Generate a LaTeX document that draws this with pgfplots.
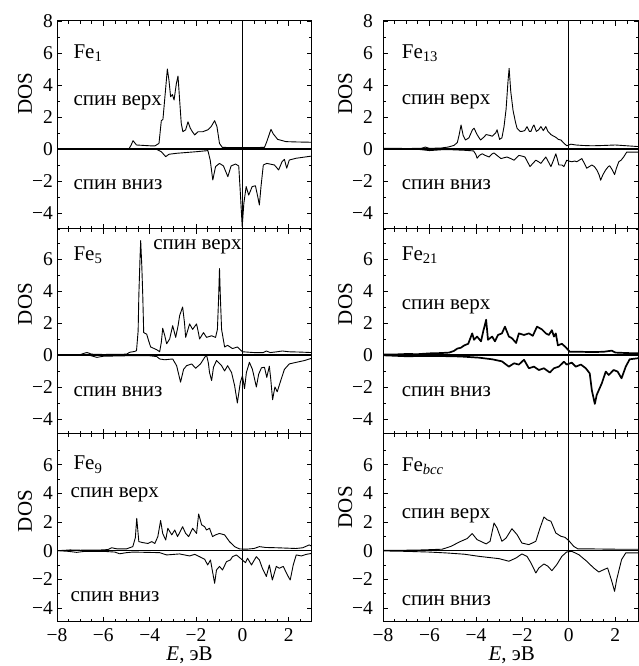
\documentclass[border=0pt]{standalone}
\usepackage{fontspec}
\setmainfont{Liberation Serif}
\usepackage{pgfplots}
\pgfplotsset{compat=1.18}
\newcommand{\fs}{\fontsize{19.5}{22}\selectfont}
\newcommand{\ft}{\fontsize{21}{24}\selectfont}
\pgfplotsset{
 dos/.style={
  scale only axis, width=255pt, xmin=-8, xmax=3,
  xtick={-8,-6,-4,-2,0,2},
  minor xtick={-7.5,-7,-6.5,-5.5,-5,-4.5,-3.5,-3,-2.5,-1.5,-1,-0.5,0.5,1,1.5,2.5},
  minor ytick={-5,-3,-1,1,3,5,7},
  tick align=inside, major tick length=5pt, minor tick length=3pt,
  every tick/.style={black, line width=0.7pt},
  axis line style={line width=1pt},
  tick label style={font=\fs, inner sep=0pt},
  label style={font=\ft},
  clip=true,
  xticklabels={},
 },
 lcol/.style={yticklabel style={xshift=-4pt},
   every axis y label/.style={at={(axis description cs:-0.125,#1)}, rotate=90, anchor=center, font=\ft}},
 rcol/.style={yticklabel style={xshift=-10pt},
   every axis y label/.style={at={(axis description cs:-0.148,#1)}, rotate=90, anchor=center, font=\ft}},
 top/.style={height=208pt, ymin=-5, ymax=8, ytick={-4,-2,0,2,4,6,8},
   yticklabels={−4,−2,0,2,4,6,8}},
 mid/.style={height=205pt, ymin=-4.94, ymax=7.875, ytick={-4,-2,0,2,4,6},
   yticklabels={−4,−2,0,2,4,6}},
 bot/.style={height=188pt, ymin=-4.98, ymax=8.14, ytick={-4,-2,0,2,4,6},
   yticklabels={−4,−2,0,2,4,6},
   xticklabels={−8,−6,−4,−2,0,2}, xticklabel style={yshift=-6pt},
   xlabel={\textit{E}, эВ}},
 zl/.style={black, line width=1.4pt},
 cv/.style={black, line width=0.9pt, line join=round},
}
\begin{document}
\begin{tikzpicture}
\useasboundingbox (0,0) rectangle (639pt,666pt);
% ---------- Fe1 ----------
\begin{axis}[dos, top, lcol=0.65, at={(57pt,437pt)}, anchor=south west, ylabel={DOS}]
\addplot[zl] coordinates {(-8,0) (3,0)};
\addplot[black, line width=1.2pt] coordinates {(0,-6) (0,9)};
\addplot[cv] coordinates {(-8,0) (-4.9,0) (-4.8,0.25) (-4.72,0.52) (-4.57,0.25) (-4.0,0.2) (-3.78,0.19) (-3.6,0.35) (-3.5,1.77) (-3.43,1.85) (-3.33,3.5) (-3.24,5.0) (-3.17,4.3) (-3.1,3.27) (-3.02,3.4) (-2.95,3.06) (-2.85,4.1) (-2.78,4.56) (-2.71,3.06) (-2.64,1.6) (-2.57,1.08) (-2.45,1.2) (-2.35,1.7) (-2.25,1.3) (-2.16,1.08) (-2.06,0.88) (-1.92,1.08) (-1.71,1.08) (-1.49,1.2) (-1.35,1.4) (-1.2,1.77) (-1.1,1.4) (-0.99,0.35) (-0.87,0.1) (0,0.08) (0.95,0.1) (1.05,0.46) (1.23,1.23) (1.33,0.94) (1.52,0.6) (1.88,0.46) (2.31,0.44) (3,0.42)};
\addplot[cv] coordinates {(-8,0) (-3.71,-0.02) (-3.5,-0.17) (-3.31,-0.48) (-3.17,-0.33) (-2.85,-0.27) (-1.99,-0.17) (-1.49,-0.1) (-1.39,-0.7) (-1.28,-1.94) (-1.16,-1.1) (-0.99,-0.9) (-0.82,-1.06) (-0.63,-1.73) (-0.49,-1.06) (-0.3,-0.94) (-0.16,-1.06) (-0.09,-2.77) (-0.01,-4.85) (0.06,-3.4) (0.16,-2.35) (0.27,-2.88) (0.42,-2.35) (0.56,-2.3) (0.66,-2.98) (0.73,-3.5) (0.8,-2.35) (0.9,-1.0) (1.05,-0.9) (1.38,-1.0) (1.56,-1.31) (1.71,-0.79) (1.81,-0.65) (1.91,-1.2) (2.02,-0.69) (2.31,-0.58) (3,-0.44)};
\node[anchor=west, font=\ft] at (axis cs:-7.44,6.0) {Fe\textsubscript{1}};
\node[anchor=west, font=\ft] at (axis cs:-7.44,2.9) {спин верх};
\node[anchor=west, font=\ft] at (axis cs:-7.44,-2.25) {спин вниз};
\end{axis}
% ---------- Fe5 ----------
\begin{axis}[dos, mid, lcol=0.634, at={(57pt,232pt)}, anchor=south west, ylabel={DOS}]
\addplot[zl] coordinates {(-8,0) (3,0)};
\addplot[black, line width=1.2pt] coordinates {(0,-6) (0,9)};
\addplot[cv] coordinates {(-8,0) (-7,0.02) (-6.8,0.12) (-6.7,0.15) (-6.5,0.05) (-6,0.03) (-5,0.05) (-4.86,0.17) (-4.65,0.22) (-4.57,0.27) (-4.5,1.5) (-4.47,3.7) (-4.42,6.0) (-4.39,7.15) (-4.34,5.5) (-4.3,3.7) (-4.26,1.4) (-4.13,1.3) (-4.05,0.9) (-3.96,0.5) (-3.7,0.33) (-3.57,0.2) (-3.5,0.8) (-3.44,1.67) (-3.35,1.2) (-3.27,0.7) (-3.14,1.0) (-3.01,1.83) (-2.88,1.1) (-2.78,1.8) (-2.71,2.46) (-2.58,3.0) (-2.5,2.0) (-2.45,1.1) (-2.28,1.94) (-2.15,1.6) (-1.98,1.94) (-1.9,1.4) (-1.85,1.0) (-1.68,1.4) (-1.55,1.1) (-1.33,1.2) (-1.16,1.1) (-1.08,1.6) (-1.03,3.5) (-0.99,5.4) (-0.95,3.5) (-0.9,1.6) (-0.77,0.5) (-0.64,0.6) (-0.43,0.4) (-0.22,0.5) (0,0.2) (0.5,0.15) (0.9,0.15) (1.03,0.25) (1.2,0.15) (1.5,0.2) (1.72,0.25) (2.0,0.2) (2.5,0.18) (3,0.15)};
\addplot[cv] coordinates {(-8,0) (-6.6,-0.02) (-6.28,-0.15) (-6.0,-0.08) (-5,-0.05) (-4,-0.05) (-3.7,-0.1) (-3.57,-0.25) (-3.35,-0.3) (-3.01,-0.25) (-2.84,-0.67) (-2.67,-1.7) (-2.54,-0.9) (-2.41,-0.67) (-2.19,-0.56) (-2.02,-0.83) (-1.81,-0.56) (-1.63,-0.15) (-1.55,0) (-1.47,-0.5) (-1.42,-1.1) (-1.33,-1.6) (-1.25,-0.77) (-1.12,-0.35) (-0.9,-0.67) (-0.77,-1.0) (-0.64,-0.67) (-0.47,-1.1) (-0.34,-1.9) (-0.22,-3.0) (-0.09,-1.7) (0,-1.3) (0.09,-2.1) (0.17,-1.1) (0.3,-0.46) (0.43,-0.9) (0.6,-2.0) (0.7,-1.2) (0.82,-0.8) (0.95,-0.77) (1.05,-1.4) (1.16,-0.7) (1.22,-1.5) (1.3,-2.8) (1.4,-2.0) (1.5,-2.3) (1.63,-1.7) (1.81,-0.9) (2.02,-0.56) (2.32,-0.46) (2.67,-0.35) (3,-0.2)};
\node[anchor=west, font=\ft] at (axis cs:-7.44,6.25) {Fe\textsubscript{5}};
\node[anchor=west, font=\ft] at (axis cs:-4.0,6.75) {спин верх};
\node[anchor=west, font=\ft] at (axis cs:-7.44,-2.3) {спин вниз};
\end{axis}
% ---------- Fe9 ----------
\begin{axis}[dos, bot, lcol=0.59, at={(57pt,44pt)}, anchor=south west, ylabel={DOS},
  every axis x label/.style={at={(axis description cs:0.52,-0.175)}, anchor=center, font=\ft}]
\addplot[zl] coordinates {(-8,0) (3,0)};
\addplot[black, line width=1.2pt] coordinates {(0,-6) (0,9)};
\addplot[cv] coordinates {(-8,0) (-7.7,0.02) (-7.44,0.05) (-7,0.03) (-6,0.05) (-5.8,0.08) (-5.64,0.2) (-5.4,0.12) (-5.0,0.12) (-4.94,0.16) (-4.73,0.28) (-4.62,0.9) (-4.56,2.26) (-4.47,0.63) (-4.3,0.56) (-4.08,0.5) (-3.91,0.63) (-3.78,0.5) (-3.65,0.98) (-3.53,2.1) (-3.44,1.2) (-3.31,0.74) (-3.22,1.56) (-3.05,1.1) (-2.92,1.44) (-2.8,0.98) (-2.58,1.67) (-2.45,1.2) (-2.32,0.98) (-2.15,1.56) (-1.98,1.2) (-1.89,2.56) (-1.76,1.8) (-1.63,1.67) (-1.55,1.44) (-1.42,1.56) (-1.29,0.98) (-1.16,1.1) (-0.99,1.2) (-0.77,1.1) (-0.56,0.63) (-0.34,0.28) (-0.13,0.12) (0.17,0.1) (0.5,0.15) (0.73,0.28) (1.0,0.22) (1.5,0.2) (2.3,0.15) (2.6,0.2) (2.88,0.4) (3,0.3)};
\addplot[cv] coordinates {(-8,0) (-7.5,-0.05) (-7.15,-0.12) (-6.8,-0.05) (-6,-0.05) (-5.5,-0.1) (-5.3,-0.22) (-5.0,-0.14) (-4.73,-0.1) (-3.57,-0.14) (-3.27,-0.3) (-2.71,-0.23) (-2.28,-0.37) (-2.06,-0.26) (-1.85,-0.42) (-1.63,-0.6) (-1.5,-1.0) (-1.38,-0.65) (-1.29,-1.47) (-1.2,-2.28) (-1.12,-1.35) (-0.99,-1.1) (-0.86,-1.35) (-0.69,-0.77) (-0.52,-0.65) (-0.43,-0.42) (-0.26,-0.3) (-0.04,-0.6) (0.13,-0.84) (0.22,-0.53) (0.39,-1.0) (0.47,-0.77) (0.6,-0.42) (0.73,-0.65) (0.86,-1.23) (1.03,-1.8) (1.16,-1.0) (1.29,-2.05) (1.46,-1.1) (1.59,-1.23) (1.76,-1.1) (1.94,-1.7) (2.06,-2.05) (2.19,-1.0) (2.32,-0.3) (2.54,-0.37) (2.75,-0.26) (3,-0.19)};
\node[anchor=west, font=\ft] at (axis cs:-7.44,6.0) {Fe\textsubscript{9}};
\node[anchor=west, font=\ft] at (axis cs:-7.57,3.9) {спин верх};
\node[anchor=west, font=\ft] at (axis cs:-7.57,-3.2) {спин вниз};
\end{axis}
% ---------- Fe13 ----------
\begin{axis}[dos, top, rcol=0.65, width=255.5pt, at={(383pt,437pt)}, anchor=south west, ylabel={DOS}]
\addplot[zl] coordinates {(-8,0) (3,0)};
\addplot[black, line width=1.2pt] coordinates {(0,-6) (0,9)};
\addplot[cv] coordinates {(-8,0.05) (-7,0.03) (-6.35,0.04) (-6.18,0.12) (-6.0,0.04) (-5.5,0.06) (-5.2,0.12) (-4.95,0.22) (-4.8,0.4) (-4.72,0.9) (-4.64,1.5) (-4.55,0.85) (-4.45,0.56) (-4.3,0.7) (-4.15,1.2) (-4.08,1.3) (-3.95,0.9) (-3.8,0.56) (-3.65,0.75) (-3.56,0.9) (-3.4,0.85) (-3.3,0.8) (-3.15,1.0) (-3.09,1.2) (-2.98,0.6) (-2.88,0.7) (-2.79,1.4) (-2.7,2.5) (-2.62,4.2) (-2.57,5.04) (-2.5,3.6) (-2.4,2.4) (-2.3,1.7) (-2.23,1.3) (-2.1,1.1) (-2.02,1.1) (-1.9,1.15) (-1.8,1.4) (-1.7,1.1) (-1.63,1.1) (-1.55,1.4) (-1.5,1.5) (-1.4,1.1) (-1.3,1.2) (-1.2,1.4) (-1.1,1.15) (-0.99,1.4) (-0.9,1.1) (-0.77,0.9) (-0.65,0.8) (-0.56,0.73) (-0.45,0.6) (-0.34,0.56) (-0.2,0.35) (-0.09,0.2) (0.09,0.3) (0.3,0.25) (0.6,0.22) (1.0,0.2) (1.5,0.22) (2.0,0.25) (2.5,0.2) (3,0.15)};
\addplot[cv] coordinates {(-8,0) (-7,-0.02) (-6.5,-0.02) (-6.0,-0.1) (-5.5,-0.05) (-5,-0.05) (-4.5,-0.08) (-4.1,-0.12) (-4.0,-0.35) (-3.95,-0.58) (-3.85,-0.4) (-3.73,-0.3) (-3.6,-0.4) (-3.43,-0.5) (-3.3,-0.3) (-3.22,-0.25) (-3.05,-0.45) (-2.92,-0.6) (-2.8,-0.55) (-2.66,-0.5) (-2.5,-0.6) (-2.36,-0.7) (-2.25,-0.55) (-2.15,-0.4) (-2.0,-0.45) (-1.89,-0.5) (-1.78,-0.8) (-1.67,-1.1) (-1.55,-0.9) (-1.42,-0.7) (-1.3,-0.8) (-1.2,-0.9) (-1.1,-0.7) (-0.99,-0.5) (-0.88,-0.8) (-0.77,-1.1) (-0.66,-0.7) (-0.56,-0.3) (-0.5,-0.6) (-0.43,-1.0) (-0.3,-1.0) (-0.21,-1.1) (-0.09,-0.7) (0.0,-0.75) (0.13,-0.8) (0.25,-0.75) (0.34,-0.8) (0.45,-0.7) (0.56,-0.6) (0.67,-0.9) (0.77,-1.2) (0.88,-1.1) (0.99,-1.0) (1.1,-1.1) (1.2,-1.3) (1.3,-1.6) (1.37,-1.95) (1.47,-1.6) (1.59,-1.3) (1.7,-1.1) (1.76,-1.05) (1.87,-1.3) (1.97,-1.6) (2.05,-1.2) (2.15,-0.8) (2.25,-0.7) (2.36,-0.5) (2.49,-0.2) (2.7,-0.2) (3,-0.2)};
\node[anchor=west, font=\ft] at (axis cs:-7.34,6.0) {Fe\textsubscript{13}};
\node[anchor=west, font=\ft] at (axis cs:-7.34,2.95) {спин верх};
\node[anchor=west, font=\ft] at (axis cs:-7.34,-2.25) {спин вниз};
\end{axis}
% ---------- Fe21 ----------
\begin{axis}[dos, mid, rcol=0.634, width=255.5pt, at={(383pt,232pt)}, anchor=south west, ylabel={DOS}]
\addplot[zl] coordinates {(-8,0) (3,0)};
\addplot[black, line width=1.2pt] coordinates {(0,-6) (0,9)};
\addplot[cv, line width=1.7pt] coordinates {(-8,0.03) (-7.5,0.03) (-7.0,0.06) (-6.5,0.05) (-6.0,0.1) (-5.5,0.12) (-5.15,0.15) (-4.95,0.25) (-4.8,0.4) (-4.65,0.45) (-4.5,0.6) (-4.33,0.7) (-4.16,1.35) (-4.08,0.95) (-3.95,1.15) (-3.78,0.85) (-3.69,1.45) (-3.56,2.2) (-3.48,0.95) (-3.3,1.15) (-3.18,0.85) (-3.05,1.25) (-2.88,1.35) (-2.75,1.77) (-2.58,1.15) (-2.45,1.05) (-2.27,0.75) (-2.15,1.35) (-1.93,1.25) (-1.72,1.35) (-1.55,1.2) (-1.37,1.77) (-1.16,1.6) (-0.99,1.35) (-0.86,1.25) (-0.73,1.55) (-0.64,1.15) (-0.56,1.35) (-0.47,0.6) (-0.3,0.7) (-0.13,0.48) (0.04,0.2) (0.5,0.2) (1.0,0.18) (1.5,0.2) (1.85,0.27) (2.0,0.15) (2.5,0.12) (3,0.1)};
\addplot[cv, line width=1.7pt] coordinates {(-8,-0.02) (-7,-0.08) (-6,-0.06) (-5,-0.08) (-4.6,-0.1) (-3.86,-0.17) (-3.3,-0.27) (-2.88,-0.4) (-2.58,-0.73) (-2.36,-0.52) (-2.15,-0.6) (-1.93,-0.3) (-1.72,-0.83) (-1.5,-0.73) (-1.29,-0.94) (-1.07,-0.83) (-0.82,-1.1) (-0.64,-0.83) (-0.43,-0.73) (-0.21,-0.42) (-0.09,-0.6) (0.13,-0.48) (0.3,-0.73) (0.52,-0.6) (0.73,-0.83) (0.9,-1.15) (0.99,-2.2) (1.12,-3.06) (1.2,-2.5) (1.42,-1.77) (1.59,-1.04) (1.72,-1.25) (1.93,-0.94) (2.1,-1.04) (2.27,-1.46) (2.45,-0.73) (2.62,-0.27) (3,-0.2)};
\node[anchor=west, font=\ft] at (axis cs:-7.34,6.25) {Fe\textsubscript{21}};
\node[anchor=west, font=\ft] at (axis cs:-7.34,3.0) {спин верх};
\node[anchor=west, font=\ft] at (axis cs:-7.34,-2.3) {спин вниз};
\end{axis}
% ---------- Fe bcc ----------
\begin{axis}[dos, bot, rcol=0.61, width=255.5pt, at={(383pt,44pt)}, anchor=south west, ylabel={DOS},
  every axis x label/.style={at={(axis description cs:0.504,-0.175)}, anchor=center, font=\ft}]
\addplot[zl] coordinates {(-8,0) (3,0)};
\addplot[black, line width=1.2pt] coordinates {(0,-6) (0,9)};
\addplot[cv] coordinates {(-8,0.02) (-7,0.03) (-6.3,0.05) (-5.45,0.1) (-5.07,0.3) (-4.72,0.6) (-4.38,0.84) (-4.16,1.19) (-3.95,0.77) (-3.56,0.47) (-3.39,0.65) (-3.22,1.93) (-3.09,1.58) (-2.88,0.65) (-2.7,0.88) (-2.45,1.53) (-2.23,1.12) (-2.02,0.53) (-1.72,0.42) (-1.42,0.65) (-1.24,1.58) (-1.07,2.35) (-0.94,2.16) (-0.77,2.05) (-0.56,1.23) (-0.34,1.0) (-0.17,0.93) (0,0.7) (0.21,0.3) (0.39,0.12) (1,0.12) (2,0.1) (3,0.1)};
\addplot[cv] coordinates {(-8,-0.02) (-7,-0.05) (-6,-0.1) (-5.28,-0.16) (-4.5,-0.25) (-3.86,-0.4) (-3.0,-0.56) (-2.58,-0.74) (-2.27,-0.51) (-2.02,-0.23) (-1.8,-0.4) (-1.63,-0.86) (-1.42,-1.56) (-1.29,-1.21) (-1.07,-0.93) (-0.9,-1.09) (-0.73,-1.4) (-0.52,-0.98) (-0.3,-0.4) (-0.09,-0.09) (0.13,-0.05) (0.43,-0.28) (0.77,-0.74) (1.07,-1.21) (1.29,-1.49) (1.5,-1.33) (1.67,-1.21) (1.85,-2.14) (1.97,-2.84) (2.06,-2.02) (2.27,-0.63) (2.45,-0.16) (2.88,-0.16) (3,-0.16)};
\node[anchor=west, font=\ft] at (axis cs:-7.34,5.9) {Fe\textsubscript{\itshape bcc}};
\node[anchor=west, font=\ft] at (axis cs:-7.34,2.4) {спин верх};
\node[anchor=west, font=\ft] at (axis cs:-7.34,-3.5) {спин вниз};
\end{axis}
\end{tikzpicture}
\end{document}
